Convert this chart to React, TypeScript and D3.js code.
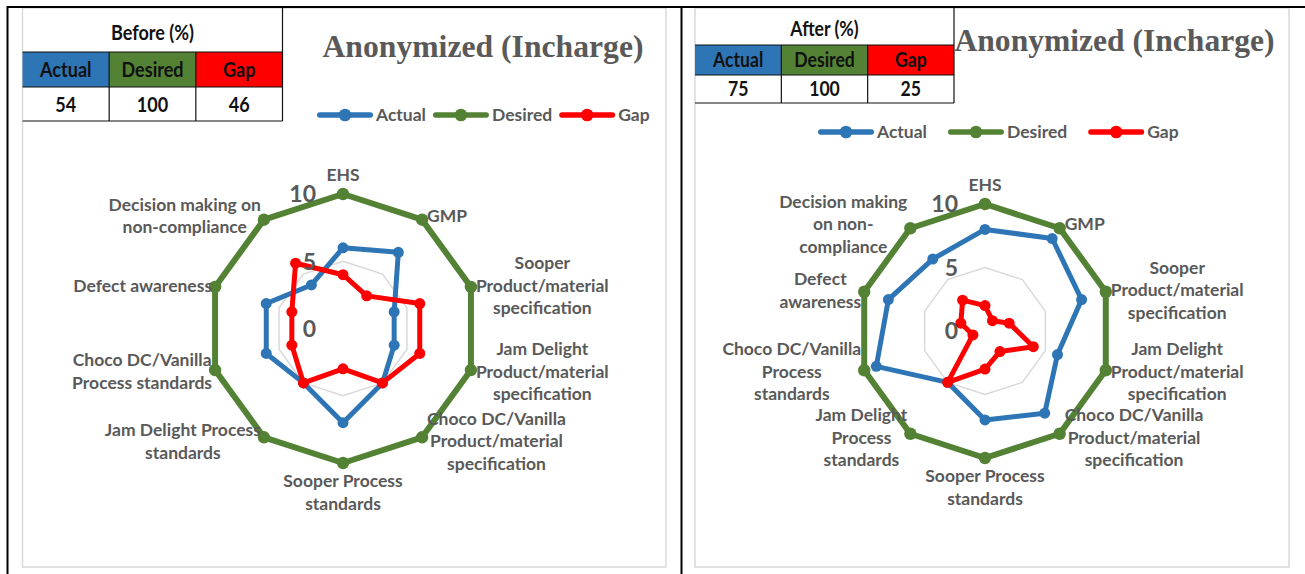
import React, { useEffect } from 'react';
import * as d3 from 'd3';

// ---------- DATA ----------
const categories = [
  'EHS',
  'GMP',
  'Sooper Product/material specification',
  'Jam Delight Product/material specification',
  'Choco DC/Vanilla Product/material specification',
  'Sooper Process standards',
  'Jam Delight Process standards',
  'Choco DC/Vanilla Process standards',
  'Defect awareness',
  'Decision making on non-compliance',
];

const beforeActual = [6, 7, 4, 4, 5, 7, 5, 6, 6, 4];
const beforeDesired = [10, 10, 10, 10, 10, 10, 10, 10, 10, 10];
const beforeGap = [4, 3, 6, 6, 5, 3, 5, 4, 4, 6];

const afterActual = [8, 9, 8, 6, 8, 7, 5, 9, 8, 7];
const afterDesired = [10, 10, 10, 10, 10, 10, 10, 10, 10, 10];
const afterGap = [2, 1, 2, 4, 2, 3, 5, 1, 2, 3];

const radialTicks = [0, 5, 10];

const beforeLabelLines = [
  ['EHS'],
  ['GMP'],
  ['Sooper', 'Product/material', 'specification'],
  ['Jam Delight', 'Product/material', 'specification'],
  ['Choco DC/Vanilla', 'Product/material', 'specification'],
  ['Sooper Process', 'standards'],
  ['Jam Delight Process', 'standards'],
  ['Choco DC/Vanilla', 'Process standards'],
  ['Defect awareness'],
  ['Decision making on', 'non-compliance'],
];
const afterLabelLines = [
  ['EHS'],
  ['GMP'],
  ['Sooper', 'Product/material', 'specification'],
  ['Jam Delight', 'Product/material', 'specification'],
  ['Choco DC/Vanilla', 'Product/material', 'specification'],
  ['Sooper Process', 'standards'],
  ['Jam Delight', 'Process', 'standards'],
  ['Choco DC/Vanilla', 'Process', 'standards'],
  ['Defect', 'awareness'],
  ['Decision making', 'on non-', 'compliance'],
];

const seriesNames = ['Actual', 'Desired', 'Gap'];
const beforeTotals = [54, 100, 46];
const afterTotals = [75, 100, 25];
const chartTitle = 'Anonymized (Incharge)';

// ---------- STYLE ----------
const COLORS = ['#2E75B6', '#548235', '#FF0000'];
const LINE_W = [5, 6, 5];
const MARK_R = [5.5, 6.2, 5.5];
const TEXT = '#595959';
const GRID = '#D9D9D9';
const SANS = 'Lato, "Open Sans", sans-serif';
const LABEL_FONT_SIZE = 17.5;
const LABEL_FONT = `700 ${LABEL_FONT_SIZE}px Lato`;

let ctx: CanvasRenderingContext2D | null = null;
function textWidth(s: string, font: string) {
  if (!ctx) ctx = document.createElement('canvas').getContext('2d');
  ctx!.font = font;
  return ctx!.measureText(s).width;
}

type Cfg = {
  cx: number; cy: number; r: number;
  frame: [number, number, number, number];
  table: { x: number; y: number; w: number; rows: number[]; fs: number; sx: number };
  title: { x: number; y: number; w: number };
  legend: { x: number; y: number; gap: number };
};

const leftCfg: Cfg = {
  cx: 343, cy: 328.5, r: 134.5,
  frame: [22.5, 8, 666, 567],
  table: { x: 22.5, y: 8, w: 260, rows: [44, 35, 34], fs: 21.5, sx: 0.84 },
  title: { x: 483, y: 57, w: 321 },
  legend: { x: 317, y: 115, gap: 7 },
};
const rightCfg: Cfg = {
  cx: 985, cy: 331, r: 127,
  frame: [695, 8, 1289, 567],
  table: { x: 695, y: 8, w: 259, rows: [37, 30, 28], fs: 20.5, sx: 0.86 },
  title: { x: 1114.5, y: 51, w: 320 },
  legend: { x: 818, y: 132, gap: 21 },
};

function Panel({ cfg, series, labels, totals, tableTitle }: {
  cfg: Cfg; series: number[][]; labels: string[][]; totals: number[]; tableTitle: string;
}) {
  const n = categories.length;
  const rScale = d3.scaleLinear().domain([0, 10]).range([0, cfg.r]);
  const aScale = d3.scaleLinear().domain([0, n]).range([0, 2 * Math.PI]);
  const radial = d3
    .lineRadial<number>()
    .angle((_, i) => aScale(i))
    .radius((d) => rScale(d))
    .curve(d3.curveLinearClosed);

  const { cx, cy } = cfg;
  const [fx0, fy0, fx1, fy1] = cfg.frame;
  const t = cfg.table;
  const colW = t.w / 3;
  const rowY = [t.y, t.y + t.rows[0], t.y + t.rows[0] + t.rows[1], t.y + t.rows[0] + t.rows[1] + t.rows[2]];

  // legend layout
  const LEG_LINE = 56;
  const legItems: { x: number; tx: number }[] = [];
  let lx = cfg.legend.x;
  seriesNames.forEach((nm) => {
    legItems.push({ x: lx, tx: lx + LEG_LINE + 3 });
    lx = lx + LEG_LINE + 3 + textWidth(nm, LABEL_FONT) + cfg.legend.gap;
  });

  const lh = 22.5;

  const tableText = (s: string | number, x: number, y: number, key: string) => (
    <text
      key={key}
      x={0}
      y={0}
      transform={`translate(${x},${y}) scale(${t.sx},1)`}
      textAnchor="middle"
      dy="0.35em"
      fontFamily={SANS}
      fontWeight={700}
      fontSize={t.fs}
      fill="#111"
    >
      {s}
    </text>
  );

  return (
    <g>
      {/* chart frame */}
      <rect x={fx0} y={fy0} width={fx1 - fx0} height={fy1 - fy0} fill="#fff" stroke={GRID} strokeWidth={1.5} />

      {/* table */}
      <g>
        {seriesNames.map((nm, i) => (
          <rect key={nm} x={t.x + i * colW} y={rowY[1]} width={colW} height={rowY[2] - rowY[1]} fill={COLORS[i]} />
        ))}
        {[rowY[1], rowY[2], rowY[3]].map((y, i) => (
          <line key={'h' + i} x1={t.x} x2={t.x + t.w} y1={y} y2={y} stroke="#111" strokeWidth={1.2} />
        ))}
        <line x1={t.x + t.w} x2={t.x + t.w} y1={rowY[0]} y2={rowY[3]} stroke="#111" strokeWidth={1.2} />
        {[1, 2].map((k) => (
          <line key={'v' + k} x1={t.x + k * colW} x2={t.x + k * colW} y1={rowY[1]} y2={rowY[3]} stroke="#111" strokeWidth={1.2} />
        ))}
        {tableText(tableTitle, t.x + t.w / 2, (rowY[0] + rowY[1]) / 2 + 2, 'tt')}
        {seriesNames.map((nm, i) => tableText(nm, t.x + (i + 0.5) * colW, (rowY[1] + rowY[2]) / 2, 'hd' + i))}
        {totals.map((v, i) => tableText(v, t.x + (i + 0.5) * colW, (rowY[2] + rowY[3]) / 2, 'vl' + i))}
      </g>

      {/* title */}
      <text
        x={cfg.title.x}
        y={cfg.title.y}
        textAnchor="middle"
        fontFamily='"Liberation Serif", serif'
        fontWeight={700}
        fontSize={32}
        fill={TEXT}
        textLength={cfg.title.w}
        lengthAdjust="spacingAndGlyphs"
      >
        {chartTitle}
      </text>

      {/* legend */}
      {seriesNames.map((nm, i) => (
        <g key={'lg' + nm}>
          <line x1={legItems[i].x + 2.75} x2={legItems[i].x + LEG_LINE - 2.75} y1={cfg.legend.y} y2={cfg.legend.y} stroke={COLORS[i]} strokeWidth={5.5} strokeLinecap="round" />
          <circle cx={legItems[i].x + LEG_LINE / 2} cy={cfg.legend.y} r={6.3} fill={COLORS[i]} />
          <text x={legItems[i].tx} y={cfg.legend.y} dy="0.35em" fontFamily={SANS} fontWeight={700} fontSize={LABEL_FONT_SIZE} fill={TEXT}>
            {nm}
          </text>
        </g>
      ))}

      {/* radar */}
      <g transform={`translate(${cx},${cy})`}>
        {radialTicks
          .filter((v) => v > 0)
          .map((v) => (
            <path key={'g' + v} d={radial(categories.map(() => v)) || ''} fill="none" stroke={GRID} strokeWidth={1.5} />
          ))}
        {series.map((s, si) => (
          <g key={'s' + si}>
            <path d={radial(s) || ''} fill="none" stroke={COLORS[si]} strokeWidth={LINE_W[si]} strokeLinejoin="round" />
            {s.map((v, i) => {
              const [px, py] = d3.pointRadial(aScale(i), rScale(v));
              return <circle key={i} cx={px} cy={py} r={MARK_R[si]} fill={COLORS[si]} />;
            })}
          </g>
        ))}
        {radialTicks.map((v) => (
          <text
            key={'t' + v}
            x={-27}
            y={-rScale(v)}
            dy="0.36em"
            textAnchor="end"
            fontFamily={SANS}
            fontWeight={700}
            fontSize={23}
            fill={TEXT}
          >
            {v}
          </text>
        ))}
      </g>

      {/* category labels */}
      {labels.map((lines, i) => {
        const a = aScale(i);
        const [ex, ey] = d3.pointRadial(a, cfg.r).map((d, k) => d + (k === 0 ? cx : cy));
        const w = Math.max(...lines.map((l) => textWidth(l, LABEL_FONT)));
        const h = lines.length * lh;
        const s = Math.sin(a);
        const c = Math.cos(a);
        let mx: number;
        let top: number;
        if (Math.abs(s) < 0.01) {
          mx = ex;
          top = c > 0 ? ey - 8 - h : ey + 7;
        } else if (s > 0) {
          mx = ex + 5 + w / 2;
          top = ey - 5 * c - h / 2;
        } else {
          mx = ex - 3 - w / 2;
          top = ey - 5 * c - h / 2;
        }
        return (
          <g key={'lb' + i}>
            {lines.map((l, k) => (
              <text
                key={k}
                x={mx}
                y={top + lh * (k + 0.5)}
                dy="0.35em"
                textAnchor="middle"
                fontFamily={SANS}
                fontWeight={700}
                fontSize={LABEL_FONT_SIZE}
                fill={TEXT}
              >
                {l}
              </text>
            ))}
          </g>
        );
      })}
    </g>
  );
}

export default function App() {
  useEffect(() => {
    document.body.style.margin = '0';
    document.body.style.overflow = 'hidden';
  }, []);
  return (
    <svg width={1305} height={574} style={{ position: 'absolute', left: 0, top: 0, background: '#fff' }}>
      <rect x={0} y={0} width={1305} height={574} fill="#fff" />
      <Panel cfg={leftCfg} series={[beforeActual, beforeDesired, beforeGap]} labels={beforeLabelLines} totals={beforeTotals} tableTitle="Before (%)" />
      <Panel cfg={rightCfg} series={[afterActual, afterDesired, afterGap]} labels={afterLabelLines} totals={afterTotals} tableTitle="After (%)" />
      {/* page frame lines */}
      <line x1={7} x2={1305} y1={7} y2={7} stroke="#000" strokeWidth={2} />
      <line x1={7.5} x2={7.5} y1={6} y2={574} stroke="#000" strokeWidth={2} />
      <line x1={681.5} x2={681.5} y1={6} y2={574} stroke="#000" strokeWidth={2} />
    </svg>
  );
}
